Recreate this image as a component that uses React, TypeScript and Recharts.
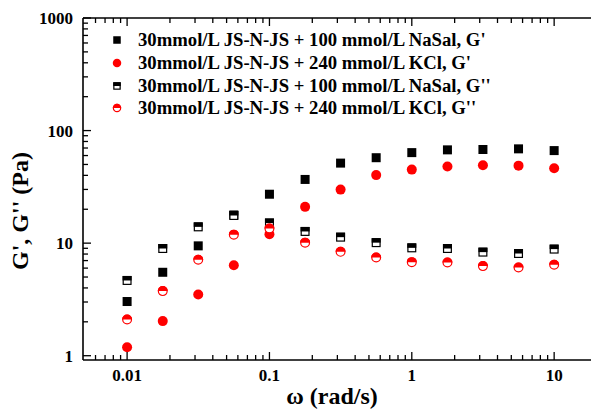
import React from "react"
import { ScatterChart, Scatter, XAxis, YAxis, Legend, Customized } from "recharts"

// angular frequency, rad/s
const omega = [0.01, 0.0178, 0.0316, 0.0562, 0.1, 0.178, 0.316, 0.562, 1, 1.78, 3.16, 5.62, 10]

// moduli, Pa
const gPrimeNaSal = [3.03, 5.51, 9.46, 17.8, 27.2, 36.8, 51.4, 57.4, 63.7, 67.4, 67.9, 68.8, 66.4]
const gPrimeKCl = [1.19, 2.03, 3.5, 6.36, 12.0, 21.0, 29.9, 40.2, 45.0, 47.9, 49.2, 48.8, 46.3]
const gDoublePrimeNaSal = [4.66, 8.96, 13.95, 17.6, 15.1, 12.7, 11.3, 10.1, 9.08, 8.96, 8.32, 8.09, 8.85]
const gDoublePrimeKCl = [2.1, 3.75, 7.11, 11.9, 13.5, 10.1, 8.37, 7.45, 6.78, 6.72, 6.25, 6.08, 6.42]

const seriesNames = [
  "30mmol/L JS-N-JS + 100 mmol/L NaSal, G'",
  "30mmol/L JS-N-JS + 240 mmol/L KCl, G'",
  "30mmol/L JS-N-JS + 100 mmol/L NaSal, G''",
  "30mmol/L JS-N-JS + 240 mmol/L KCl, G''",
]

const xMajor = [0.01, 0.1, 1, 10]
const yMajor = [1, 10, 100, 1000]

const FONT = '"Liberation Serif", "Times New Roman", serif'
const RED = "#ff0000"

// minor ticks 2..9 for every decade in range
const minorTicks = (from: number, to: number) => {
  const out: number[] = []
  for (let d = from; d < to; d *= 10) {
    for (let k = 1; k <= 9; k++) out.push(+(d * k).toPrecision(3))
  }
  return out
}
const xTicks = minorTicks(0.001, 20).filter((v) => v >= 0.006 && v <= 20)
const yTicks = minorTicks(1, 1000).concat([1000])

const toPoints = (ys: number[]) => omega.map((x, i) => ({ x, y: ys[i] }))

type Kind = "square" | "circle" | "halfSquare" | "halfCircle"

const Marker = ({ cx, cy, kind, size }: { cx: number; cy: number; kind: Kind; size: number }) => {
  const h = size / 2
  if (kind === "square") return <rect x={cx - h} y={cy - h} width={size} height={size} fill="#000" />
  if (kind === "circle") return <circle cx={cx} cy={cy} r={h + 0.5} fill={RED} />
  if (kind === "halfSquare")
    return (
      <g>
        <rect x={cx - h + 0.6} y={cy - h + 0.6} width={size - 1.2} height={size - 1.2} fill="#fff" stroke="#000" strokeWidth={1.2} />
        <rect x={cx - h} y={cy - h} width={size} height={h} fill="#000" />
      </g>
    )
  const r = h + 0.5
  return (
    <g>
      <circle cx={cx} cy={cy} r={r - 0.6} fill="#fff" stroke={RED} strokeWidth={1.2} />
      <path d={`M ${cx - r} ${cy} A ${r} ${r} 0 0 1 ${cx + r} ${cy} Z`} fill={RED} />
    </g>
  )
}

const shapeOf = (kind: Kind) => (props: any) => <Marker cx={props.cx} cy={props.cy} kind={kind} size={9} />

const isMajor = (v: number, majors: number[]) => majors.some((m) => Math.abs(m - v) < 1e-9)

const BottomTick = ({ x, y, payload }: any) => {
  const major = isMajor(payload.value, xMajor)
  return (
    <g>
      <line x1={x} x2={x} y1={y} y2={y - (major ? 8 : 5)} stroke="#000" strokeWidth={1.3} />
      {major && (
        <text x={x} y={y + 21} textAnchor="middle" fontFamily={FONT} fontWeight="bold" fontSize={17} fill="#000">
          {payload.value}
        </text>
      )}
    </g>
  )
}

const TopTick = ({ x, y, payload }: any) => {
  const major = isMajor(payload.value, xMajor)
  return <line x1={x} x2={x} y1={y} y2={y + (major ? 8 : 5)} stroke="#000" strokeWidth={1.3} />
}

const LeftTick = ({ x, y, payload }: any) => {
  const major = isMajor(payload.value, yMajor)
  return (
    <g>
      <line x1={x} x2={x + (major ? 8 : 5)} y1={y} y2={y} stroke="#000" strokeWidth={1.3} />
      {major && (
        <text x={x - 10} y={y + 6} textAnchor="end" fontFamily={FONT} fontWeight="bold" fontSize={17} fill="#000">
          {payload.value}
        </text>
      )}
    </g>
  )
}

const kinds: Kind[] = ["square", "circle", "halfSquare", "halfCircle"]

const LegendBox = () => (
  <div style={{ fontFamily: FONT, fontWeight: "bold", fontSize: 18.7, color: "#000" }}>
    {seriesNames.map((name, i) => (
      <div key={name} style={{ display: "flex", alignItems: "center", height: 22.7, whiteSpace: "nowrap" }}>
        <svg width={18} height={14} style={{ marginRight: 12 }}>
          <Marker cx={9} cy={7} kind={kinds[i]} size={7.5} />
        </svg>
        <span>{name}</span>
      </div>
    ))}
  </div>
)

const AxisTitles = () => (
  <g fontFamily={FONT} fontWeight="bold" fontSize={24} fill="#000">
    <text x={332} y={404} textAnchor="middle">
      ω (rad/s)
    </text>
    <text x={28} y={211} textAnchor="middle" transform="rotate(-90 28 211)">
      G', G'' (Pa)
    </text>
  </g>
)

const X_DOMAIN: [number, number] = [0.0049, 20]
const Y_DOMAIN: [number, number] = [0.916, 1000]

export default function App() {
  const data = [gPrimeNaSal, gPrimeKCl, gDoublePrimeNaSal, gDoublePrimeKCl].map(toPoints)

  return (
    <div style={{ position: "absolute", left: 0, top: 0, width: 591, height: 410, overflow: "hidden", background: "#fff" }}>
      <ScatterChart width={612} height={410} margin={{ top: 17, left: 82, right: 15, bottom: 49 }}>
        <XAxis
          xAxisId="bottom"
          dataKey="x"
          type="number"
          scale="log"
          domain={X_DOMAIN}
          allowDataOverflow
          ticks={xTicks}
          interval={0}
          height={1}
          tickSize={0}
          tickMargin={0}
          tick={<BottomTick />}
          axisLine={{ stroke: "#000", strokeWidth: 1.6 }}
        />
        <XAxis
          xAxisId="top"
          orientation="top"
          dataKey="x"
          type="number"
          scale="log"
          domain={X_DOMAIN}
          allowDataOverflow
          ticks={xTicks}
          interval={0}
          height={1}
          tickSize={0}
          tickMargin={0}
          tick={<TopTick />}
          axisLine={{ stroke: "#000", strokeWidth: 1.6 }}
        />
        <YAxis
          yAxisId="left"
          dataKey="y"
          type="number"
          scale="log"
          domain={Y_DOMAIN}
          allowDataOverflow
          ticks={yTicks}
          interval={0}
          width={1}
          tickSize={0}
          tickMargin={0}
          tick={<LeftTick />}
          axisLine={{ stroke: "#000", strokeWidth: 1.6 }}
        />
        {/* horizontal + middle + center keeps the legend from eating plot space */}
        <Legend
          layout="horizontal"
          verticalAlign="middle"
          align="center"
          content={<LegendBox />}
          wrapperStyle={{ left: 108, top: 29, width: "auto" }}
        />
        {data.map((pts, i) => (
          <Scatter
            key={seriesNames[i]}
            name={seriesNames[i]}
            data={pts}
            xAxisId="bottom"
            yAxisId="left"
            shape={shapeOf(kinds[i])}
            isAnimationActive={false}
          />
        ))}
        <Customized component={AxisTitles} />
      </ScatterChart>
    </div>
  )
}
